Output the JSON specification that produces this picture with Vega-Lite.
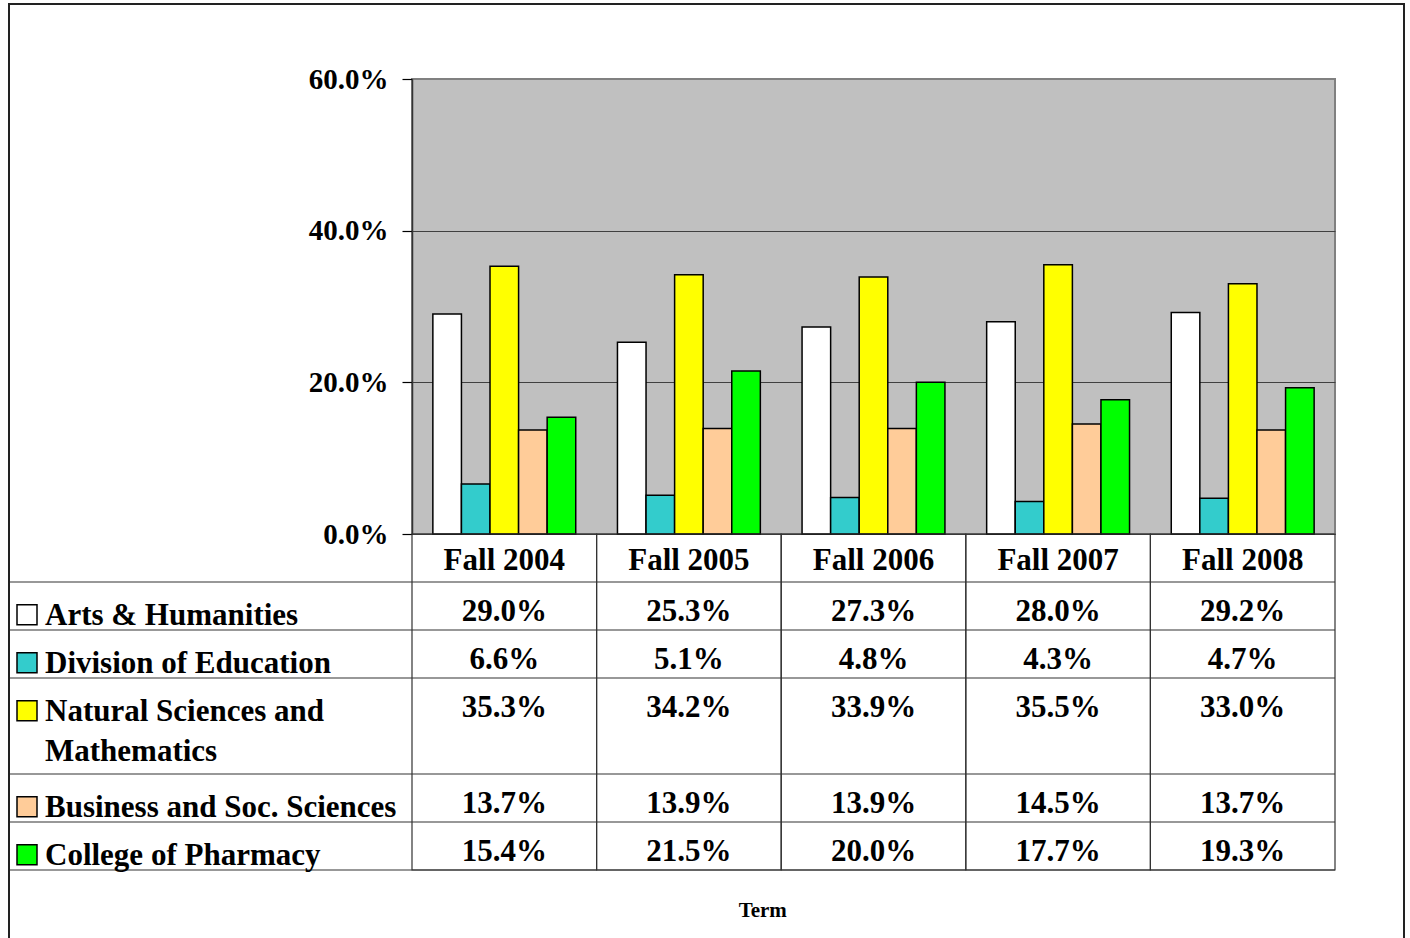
{
  "$schema": "https://vega.github.io/schema/vega-lite/v6.json",
  "width": 923,
  "height": 455,
  "autosize": {"type": "none"},
  "padding": {"left": 412, "top": 79, "right": 75, "bottom": 404},
  "background": "white",
  "config": {"view": {"fill": "#C0C0C0", "stroke": "#808080", "strokeWidth": 2}},
  "datasets": {
    "shares": [
      {"term": "Fall 2004", "category": "Arts & Humanities", "value": 29.0},
      {"term": "Fall 2005", "category": "Arts & Humanities", "value": 25.3},
      {"term": "Fall 2006", "category": "Arts & Humanities", "value": 27.3},
      {"term": "Fall 2007", "category": "Arts & Humanities", "value": 28.0},
      {"term": "Fall 2008", "category": "Arts & Humanities", "value": 29.2},
      {"term": "Fall 2004", "category": "Division of Education", "value": 6.6},
      {"term": "Fall 2005", "category": "Division of Education", "value": 5.1},
      {"term": "Fall 2006", "category": "Division of Education", "value": 4.8},
      {"term": "Fall 2007", "category": "Division of Education", "value": 4.3},
      {"term": "Fall 2008", "category": "Division of Education", "value": 4.7},
      {"term": "Fall 2004", "category": "Natural Sciences and Mathematics", "value": 35.3},
      {"term": "Fall 2005", "category": "Natural Sciences and Mathematics", "value": 34.2},
      {"term": "Fall 2006", "category": "Natural Sciences and Mathematics", "value": 33.9},
      {"term": "Fall 2007", "category": "Natural Sciences and Mathematics", "value": 35.5},
      {"term": "Fall 2008", "category": "Natural Sciences and Mathematics", "value": 33.0},
      {"term": "Fall 2004", "category": "Business and Soc. Sciences", "value": 13.7},
      {"term": "Fall 2005", "category": "Business and Soc. Sciences", "value": 13.9},
      {"term": "Fall 2006", "category": "Business and Soc. Sciences", "value": 13.9},
      {"term": "Fall 2007", "category": "Business and Soc. Sciences", "value": 14.5},
      {"term": "Fall 2008", "category": "Business and Soc. Sciences", "value": 13.7},
      {"term": "Fall 2004", "category": "College of Pharmacy", "value": 15.4},
      {"term": "Fall 2005", "category": "College of Pharmacy", "value": 21.5},
      {"term": "Fall 2006", "category": "College of Pharmacy", "value": 20.0},
      {"term": "Fall 2007", "category": "College of Pharmacy", "value": 17.7},
      {"term": "Fall 2008", "category": "College of Pharmacy", "value": 19.3}
    ],
    "terms": [
      {"term": "Fall 2004"}, {"term": "Fall 2005"}, {"term": "Fall 2006"}, {"term": "Fall 2007"}, {"term": "Fall 2008"}
    ],
    "labels": [
      {"category": "Arts & Humanities", "label": "Arts & Humanities"},
      {"category": "Division of Education", "label": "Division of Education"},
      {"category": "Natural Sciences and Mathematics", "label": "Natural Sciences and\nMathematics"},
      {"category": "Business and Soc. Sciences", "label": "Business and Soc. Sciences"},
      {"category": "College of Pharmacy", "label": "College of Pharmacy"}
    ],
    "rowLines": [
      {"row": "Arts & Humanities"},
      {"row": "Division of Education"},
      {"row": "Natural Sciences and Mathematics"},
      {"row": "Business and Soc. Sciences"},
      {"row": "College of Pharmacy"},
      {"row": "Term"}
    ],
    "one": [{}]
  },
  "layer": [
    {
      "data": {"name": "shares"},
      "mark": {"type": "bar", "stroke": "#000000", "strokeWidth": 1.5},
      "encoding": {
        "x": {"field": "term", "type": "nominal", "axis": null,
              "scale": {"type": "band", "domain": ["Fall 2004", "Fall 2005", "Fall 2006", "Fall 2007", "Fall 2008"], "range": [0, 923], "paddingInner": 0, "paddingOuter": 0}},
        "xOffset": {"field": "category", "type": "nominal",
              "scale": {"domain": ["Arts & Humanities", "Division of Education", "Natural Sciences and Mathematics", "Business and Soc. Sciences", "College of Pharmacy"], "paddingInner": 0, "paddingOuter": 0.73}},
        "y": {"field": "value", "type": "quantitative",
              "scale": {"domain": [0, 60], "nice": false, "zero": true},
              "axis": {"values": [0, 20, 40, 60], "title": null,
                       "labelExpr": "format(datum.value, '.1f') + '%'",
                       "grid": true,
                       "gridColor": {"condition": {"test": "datum.value >= 60", "value": "transparent"}, "value": "#404040"},
                       "gridWidth": 1,
                       "domainColor": "#333333", "domainWidth": 1.5,
                       "tickColor": "#000000", "tickSize": 10, "tickWidth": 1.2,
                       "labelPadding": 14,
                       "labelFont": "Liberation Serif", "labelFontSize": 29, "labelFontWeight": "bold", "labelColor": "#000000"}},
        "color": {"field": "category", "type": "nominal", "legend": null,
              "scale": {"domain": ["Arts & Humanities", "Division of Education", "Natural Sciences and Mathematics", "Business and Soc. Sciences", "College of Pharmacy"],
                        "range": ["#FFFFFF", "#33CCCC", "#FFFF00", "#FFCC99", "#00FF00"]}}
      }
    },
    {
      "data": {"name": "one"},
      "mark": {"type": "rect", "fill": "transparent", "stroke": "#222222", "strokeWidth": 2},
      "encoding": {
        "x": {"datum": "left", "type": "nominal", "axis": null, "scale": {"type": "point", "domain": ["left", "right"], "range": [-403, 992], "padding": 0}},
        "x2": {"datum": "right"},
        "y": {"datum": "top", "type": "nominal", "axis": null, "scale": {"type": "point", "domain": ["top", "bottom"], "range": [-75, 870], "padding": 0}},
        "y2": {"datum": "bottom"}
      }
    },
    {
      "data": {"name": "terms"},
      "mark": {"type": "rect", "fill": "transparent", "stroke": "#333333", "strokeWidth": 1.2},
      "encoding": {
        "x": {"field": "term", "type": "nominal", "axis": null,
              "scale": {"type": "band", "domain": ["Fall 2004", "Fall 2005", "Fall 2006", "Fall 2007", "Fall 2008"], "range": [0, 923], "paddingInner": 0, "paddingOuter": 0}},
        "y": {"datum": "top", "type": "nominal", "axis": null, "scale": {"type": "point", "domain": ["top", "bottom"], "range": [455, 791], "padding": 0}},
        "y2": {"datum": "bottom"}
      }
    },
    {
      "data": {"name": "rowLines"},
      "mark": {"type": "rule", "stroke": "#333333", "strokeWidth": 1.2},
      "encoding": {
        "x": {"datum": "tableLeft", "type": "nominal", "axis": null, "scale": {"type": "point", "domain": ["tableLeft", "tableRight"], "range": [-402, 923], "padding": 0}},
        "x2": {"datum": "tableRight"},
        "y": {"field": "row", "type": "nominal", "axis": null, "bandPosition": 0,
              "scale": {"type": "band", "domain": ["header", "Arts & Humanities", "Division of Education", "Natural Sciences and Mathematics", "Natural Sciences and Mathematics (cont.)", "Business and Soc. Sciences", "College of Pharmacy", "Term"], "range": [455, 839], "paddingInner": 0, "paddingOuter": 0}}
      }
    },
    {
      "data": {"name": "terms"},
      "mark": {"type": "text", "font": "Liberation Serif", "fontWeight": "bold", "fontSize": 31, "color": "#000000", "align": "center", "baseline": "alphabetic"},
      "encoding": {
        "x": {"field": "term", "type": "nominal", "axis": null,
              "scale": {"type": "band", "domain": ["Fall 2004", "Fall 2005", "Fall 2006", "Fall 2007", "Fall 2008"], "range": [0, 923], "paddingInner": 0, "paddingOuter": 0}},
        "y": {"datum": "header", "type": "nominal", "axis": null, "bandPosition": 0.76,
              "scale": {"type": "band", "domain": ["header", "Arts & Humanities", "Division of Education", "Natural Sciences and Mathematics", "Natural Sciences and Mathematics (cont.)", "Business and Soc. Sciences", "College of Pharmacy", "Term"], "range": [455, 839], "paddingInner": 0, "paddingOuter": 0}},
        "text": {"field": "term"}
      }
    },
    {
      "data": {"name": "shares"},
      "transform": [{"calculate": "format(datum.value, '.1f') + '%'", "as": "label"}],
      "mark": {"type": "text", "font": "Liberation Serif", "fontWeight": "bold", "fontSize": 31, "color": "#000000", "align": "center", "baseline": "alphabetic"},
      "encoding": {
        "x": {"field": "term", "type": "nominal", "axis": null,
              "scale": {"type": "band", "domain": ["Fall 2004", "Fall 2005", "Fall 2006", "Fall 2007", "Fall 2008"], "range": [0, 923], "paddingInner": 0, "paddingOuter": 0}},
        "y": {"field": "category", "type": "nominal", "axis": null, "bandPosition": 0.82,
              "scale": {"type": "band", "domain": ["header", "Arts & Humanities", "Division of Education", "Natural Sciences and Mathematics", "Natural Sciences and Mathematics (cont.)", "Business and Soc. Sciences", "College of Pharmacy", "Term"], "range": [455, 839], "paddingInner": 0, "paddingOuter": 0}},
        "text": {"field": "label"}
      }
    },
    {
      "data": {"name": "labels"},
      "mark": {"type": "point", "shape": "square", "size": 400, "filled": true, "opacity": 1, "stroke": "#000000", "strokeWidth": 1.5},
      "encoding": {
        "x": {"datum": "swatch", "type": "nominal", "axis": null, "scale": {"type": "point", "domain": ["swatch", "text"], "range": [-385, -367], "padding": 0}},
        "y": {"field": "category", "type": "nominal", "axis": null, "bandPosition": 0.68,
              "scale": {"type": "band", "domain": ["header", "Arts & Humanities", "Division of Education", "Natural Sciences and Mathematics", "Natural Sciences and Mathematics (cont.)", "Business and Soc. Sciences", "College of Pharmacy", "Term"], "range": [455, 839], "paddingInner": 0, "paddingOuter": 0}},
        "color": {"field": "category", "type": "nominal", "legend": null,
              "scale": {"domain": ["Arts & Humanities", "Division of Education", "Natural Sciences and Mathematics", "Business and Soc. Sciences", "College of Pharmacy"],
                        "range": ["#FFFFFF", "#33CCCC", "#FFFF00", "#FFCC99", "#00FF00"]}}
      }
    },
    {
      "data": {"name": "labels"},
      "mark": {"type": "text", "font": "Liberation Serif", "fontWeight": "bold", "fontSize": 31, "color": "#000000", "align": "left", "baseline": "alphabetic", "lineBreak": "\n", "lineHeight": 40},
      "encoding": {
        "x": {"datum": "text", "type": "nominal", "axis": null, "scale": {"type": "point", "domain": ["swatch", "text"], "range": [-385, -367], "padding": 0}},
        "y": {"field": "category", "type": "nominal", "axis": null, "bandPosition": 0.9,
              "scale": {"type": "band", "domain": ["header", "Arts & Humanities", "Division of Education", "Natural Sciences and Mathematics", "Natural Sciences and Mathematics (cont.)", "Business and Soc. Sciences", "College of Pharmacy", "Term"], "range": [455, 839], "paddingInner": 0, "paddingOuter": 0}},
        "text": {"field": "label"}
      }
    },
    {
      "data": {"name": "one"},
      "mark": {"type": "text", "text": "Term", "font": "Liberation Serif", "fontWeight": "bold", "fontSize": 21, "color": "#000000", "align": "center", "baseline": "alphabetic"},
      "encoding": {
        "x": {"datum": "Fall 2005", "type": "nominal", "axis": null, "bandPosition": 0.9,
              "scale": {"type": "band", "domain": ["Fall 2004", "Fall 2005", "Fall 2006", "Fall 2007", "Fall 2008"], "range": [0, 923], "paddingInner": 0, "paddingOuter": 0}},
        "y": {"datum": "Term", "type": "nominal", "axis": null, "bandPosition": 0.98,
              "scale": {"type": "band", "domain": ["header", "Arts & Humanities", "Division of Education", "Natural Sciences and Mathematics", "Natural Sciences and Mathematics (cont.)", "Business and Soc. Sciences", "College of Pharmacy", "Term"], "range": [455, 839], "paddingInner": 0, "paddingOuter": 0}}
      }
    }
  ],
  "resolve": {"scale": {"x": "independent", "y": "independent", "xOffset": "independent"}}
}
